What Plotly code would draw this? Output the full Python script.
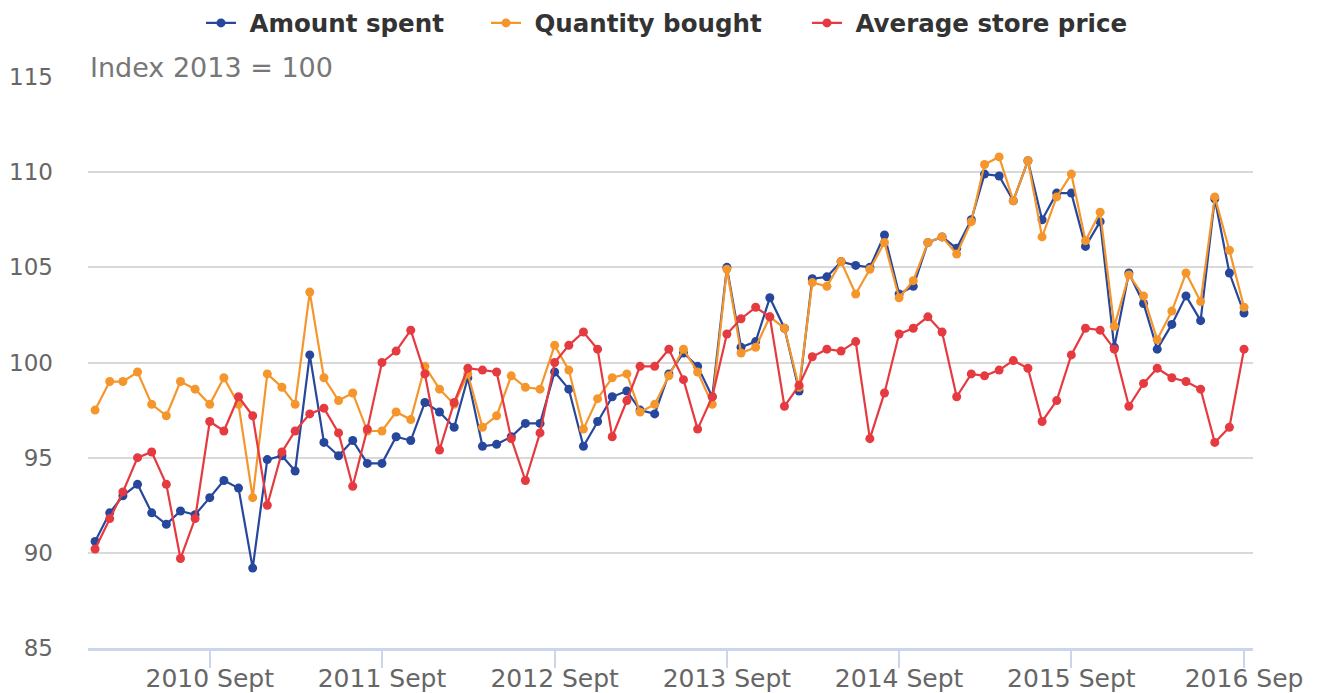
import pandas as pd
import plotly.graph_objects as go

months = pd.date_range("2010-01-01", periods=81, freq="MS")

amount_spent = [
    90.6, 92.1, 93.0, 93.6, 92.1, 91.5, 92.2, 92.0, 92.9, 93.8,
    93.4, 89.2, 94.9, 95.1, 94.3, 100.4, 95.8, 95.1, 95.9, 94.7,
    94.7, 96.1, 95.9, 97.9, 97.4, 96.6, 99.2, 95.6, 95.7, 96.1,
    96.8, 96.8, 99.5, 98.6, 95.6, 96.9, 98.2, 98.5, 97.5, 97.3,
    99.4, 100.5, 99.8, 98.2, 105.0, 100.8, 101.1, 103.4, 101.8, 98.5,
    104.4, 104.5, 105.3, 105.1, 105.0, 106.7, 103.6, 104.0, 106.3, 106.6,
    106.0, 107.5, 109.9, 109.8, 108.5, 110.6, 107.5, 108.9, 108.9, 106.1,
    107.4, 100.8, 104.7, 103.1, 100.7, 102.0, 103.5, 102.2, 108.6, 104.7,
    102.6,
]

quantity_bought = [
    97.5, 99.0, 99.0, 99.5, 97.8, 97.2, 99.0, 98.6, 97.8, 99.2,
    97.8, 92.9, 99.4, 98.7, 97.8, 103.7, 99.2, 98.0, 98.4, 96.4,
    96.4, 97.4, 97.0, 99.8, 98.6, 97.8, 99.4, 96.6, 97.2, 99.3,
    98.7, 98.6, 100.9, 99.6, 96.5, 98.1, 99.2, 99.4, 97.4, 97.8,
    99.3, 100.7, 99.5, 97.8, 104.9, 100.5, 100.8, 102.4, 101.8, 98.7,
    104.2, 104.0, 105.3, 103.6, 104.9, 106.3, 103.4, 104.3, 106.3, 106.6,
    105.7, 107.4, 110.4, 110.8, 108.5, 110.6, 106.6, 108.7, 109.9, 106.4,
    107.9, 101.9, 104.6, 103.5, 101.2, 102.7, 104.7, 103.2, 108.7, 105.9,
    102.9,
]

average_store_price = [
    90.2, 91.8, 93.2, 95.0, 95.3, 93.6, 89.7, 91.8, 96.9, 96.4,
    98.2, 97.2, 92.5, 95.3, 96.4, 97.3, 97.6, 96.3, 93.5, 96.5,
    100.0, 100.6, 101.7, 99.4, 95.4, 97.9, 99.7, 99.6, 99.5, 96.0,
    93.8, 96.3, 100.0, 100.9, 101.6, 100.7, 96.1, 98.0, 99.8, 99.8,
    100.7, 99.1, 96.5, 98.2, 101.5, 102.3, 102.9, 102.4, 97.7, 98.8,
    100.3, 100.7, 100.6, 101.1, 96.0, 98.4, 101.5, 101.8, 102.4, 101.6,
    98.2, 99.4, 99.3, 99.6, 100.1, 99.7, 96.9, 98.0, 100.4, 101.8,
    101.7, 100.7, 97.7, 98.9, 99.7, 99.2, 99.0, 98.6, 95.8, 96.6,
    100.7,
]

tick_dates = ["2010-09-01", "2011-09-01", "2012-09-01", "2013-09-01",
              "2014-09-01", "2015-09-01", "2016-09-01"]
tick_labels = ["2010 Sept", "2011 Sept", "2012 Sept", "2013 Sept",
               "2014 Sept", "2015 Sept", "2016 Sep"]

series_names = ["Amount spent", "Quantity bought", "Average store price"]
series_values = [amount_spent, quantity_bought, average_store_price]
series_colors = ["#26479b", "#f5962c", "#e53a40"]
legend_ids = ["legend", "legend2", "legend3"]
legend_left_px = [201, 486, 807]

W, H = 1317, 693

fig = go.Figure()
for name, vals, color, lid in zip(series_names, series_values, series_colors, legend_ids):
    fig.add_trace(go.Scatter(
        x=months, y=vals, name=" " + name, mode="lines+markers",
        line=dict(color=color, width=2.2),
        marker=dict(color=color, size=9),
        legend=lid,
    ))

legend_common = dict(
    orientation="h", xref="container", yref="container",
    xanchor="left", yanchor="middle", y=1 - 23 / H,
    font=dict(size=24.5, color="#333333", weight="bold"),
    bgcolor="rgba(0,0,0,0)", borderwidth=0,
)

layout_legends = {}
for lid, px in zip(legend_ids, legend_left_px):
    layout_legends[lid] = dict(legend_common, x=px / W)

fig.update_layout(
    width=W, height=H,
    margin=dict(l=88, r=64, t=77, b=45, autoexpand=False),
    paper_bgcolor="white", plot_bgcolor="white",
    font=dict(family="DejaVu Sans", color="#666666"),
    showlegend=True,
    **layout_legends,
    xaxis=dict(
        range=["2009-12-17", "2016-09-20"],
        tickvals=tick_dates, ticktext=tick_labels,
        showgrid=False, zeroline=False, automargin=False,
        showline=True, linecolor="#ccd6eb", linewidth=3,
        ticks="outside", ticklen=17, tickcolor="#ccd6eb", tickwidth=1.5,
        tickfont=dict(size=25, color="#666666"),
        ticklabelstandoff=-11,
    ),
    yaxis=dict(
        range=[85, 115], dtick=5, tick0=85,
        showgrid=True, gridcolor="#d9d9d9", gridwidth=2,
        zeroline=False, showline=False, automargin=False,
        tickfont=dict(size=23, color="#666666"),
        ticklabelstandoff=34,
    ),
    annotations=[dict(
        text="Index 2013 = 100", xref="paper", yref="paper",
        x=0, y=1, xanchor="left", yanchor="middle", yshift=10, xshift=0,
        showarrow=False, font=dict(size=27, color="#777777"),
    )],
)

fig.write_html("out.html", config={"displayModeBar": False},
               post_script="document.body.style.margin='0px';")
